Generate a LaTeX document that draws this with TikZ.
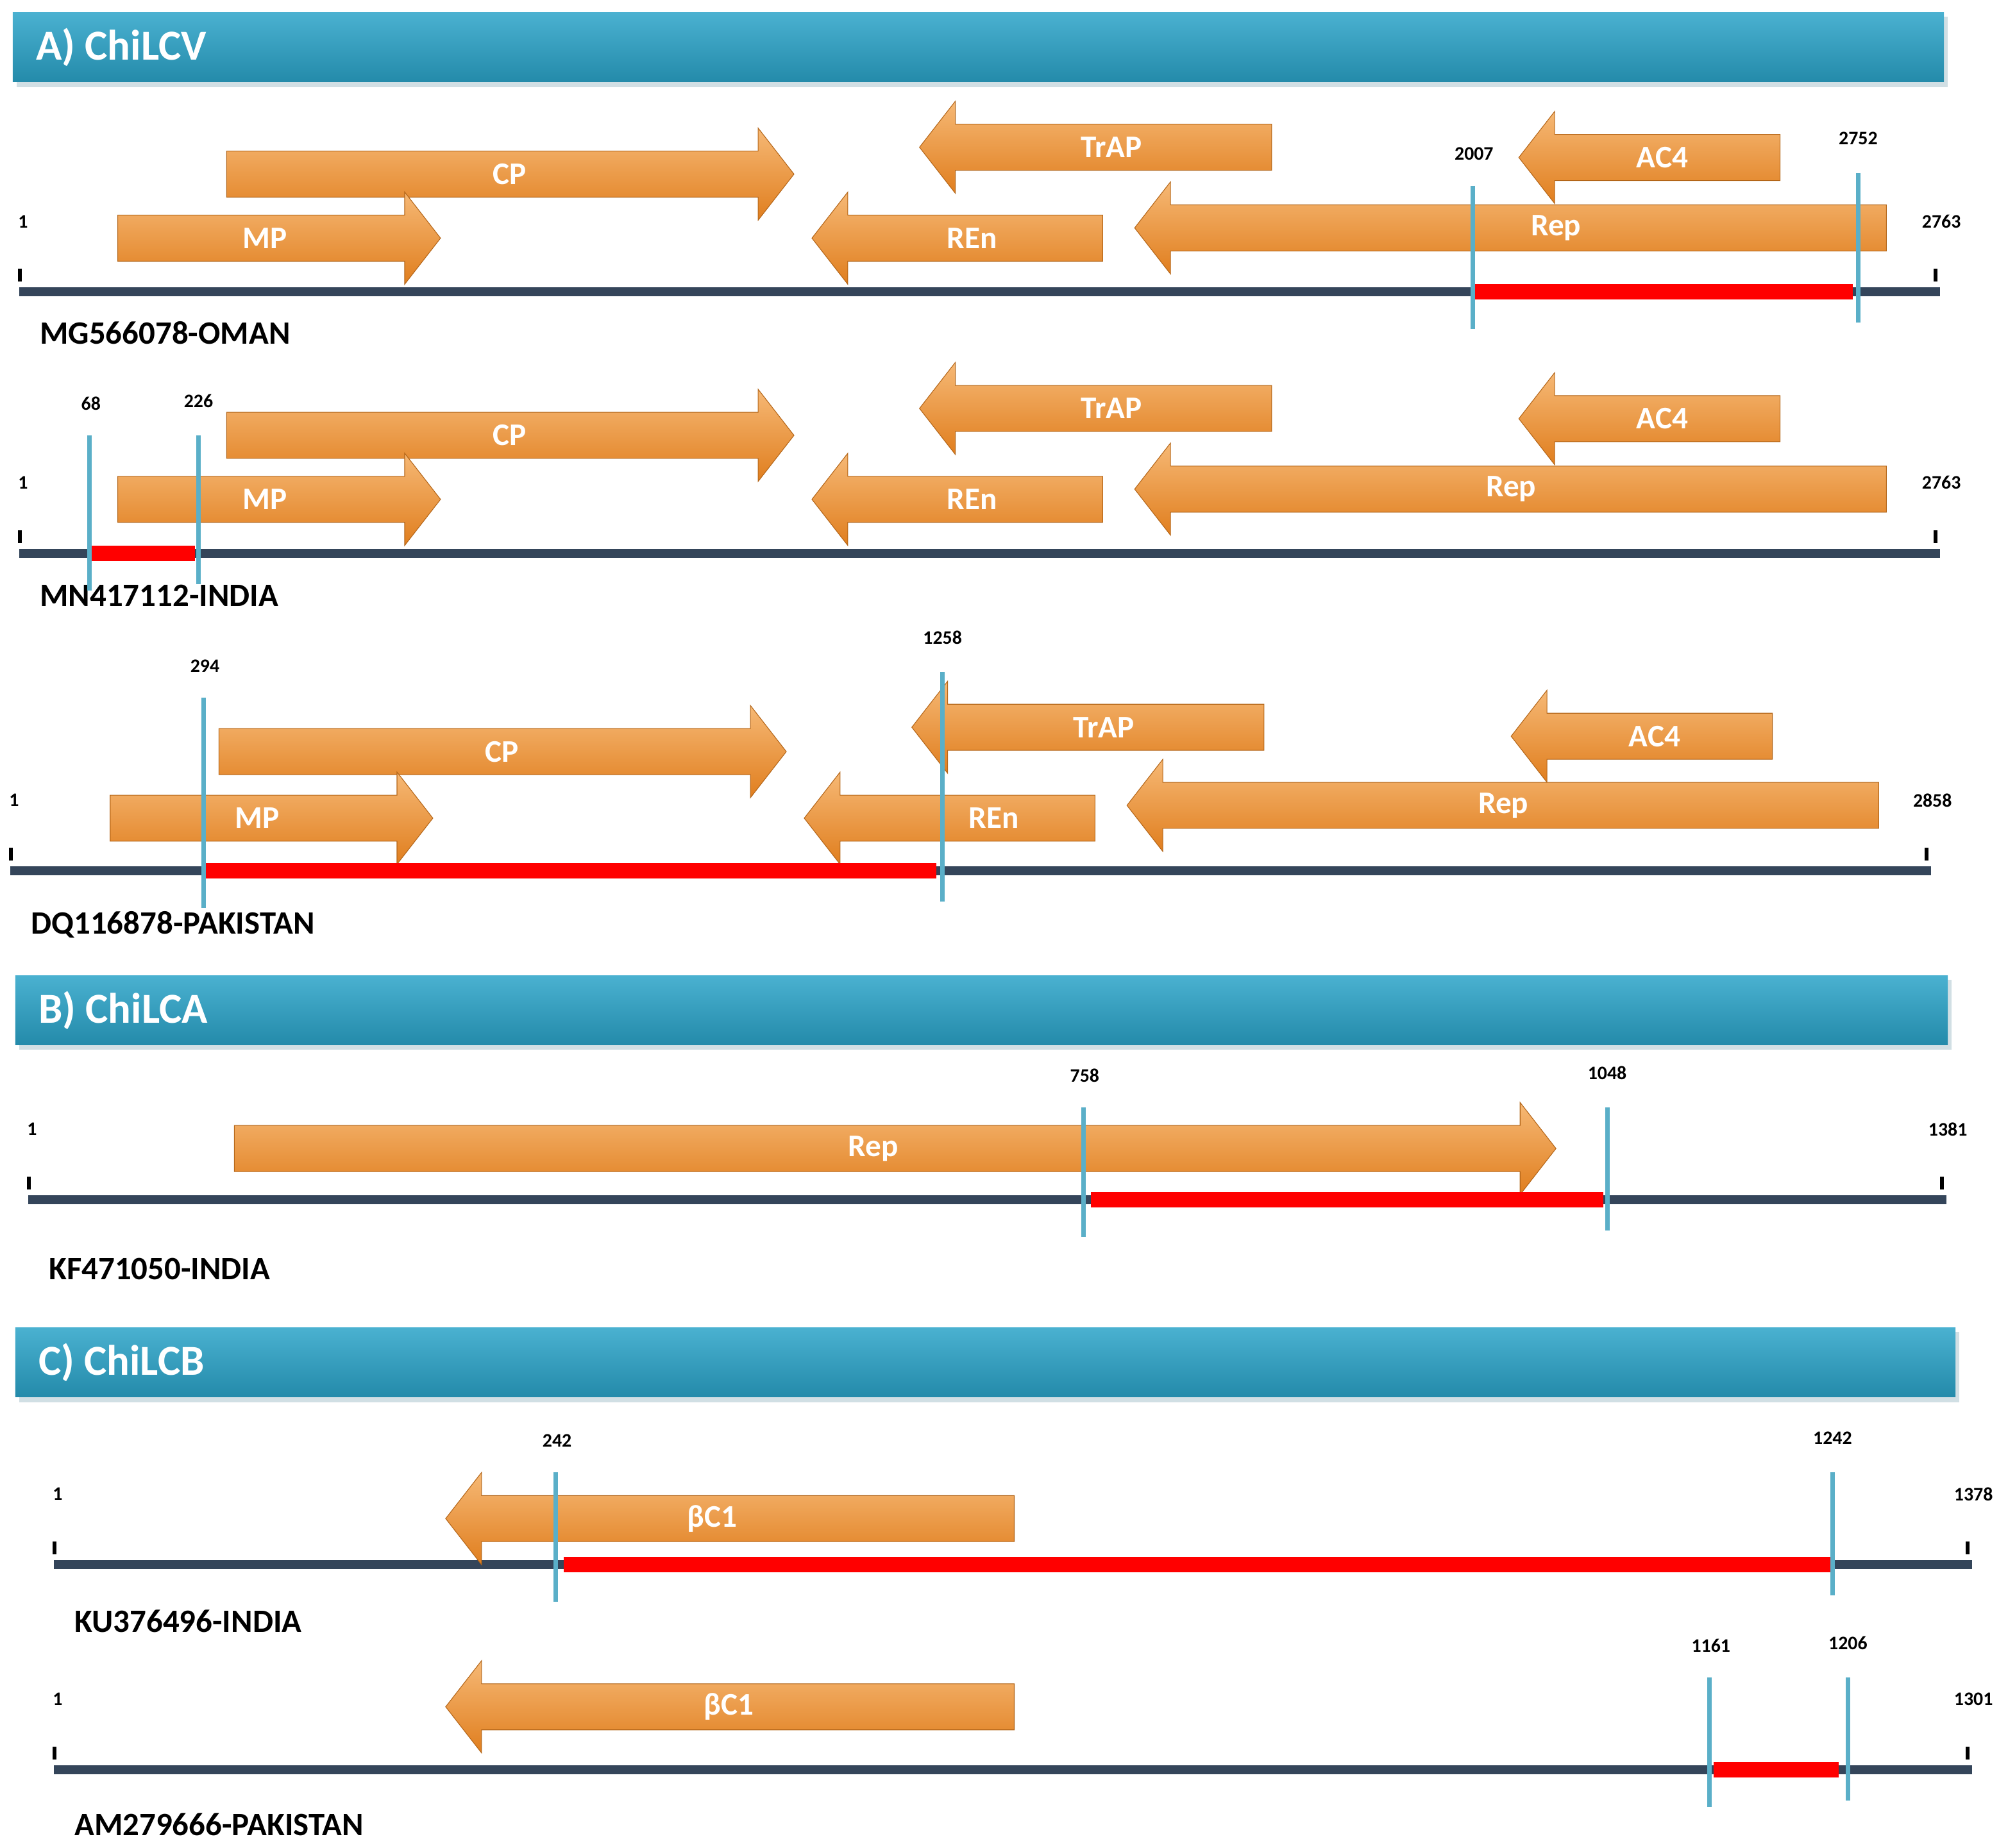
\documentclass[tikz,border=0pt]{standalone}
\usepackage{fontspec}
\setmainfont{Carlito}
\definecolor{barblue}{HTML}{2AA3C8}
\definecolor{genor}{HTML}{F29A3A}
\definecolor{genordk}{HTML}{E07E1E}
\definecolor{trackc}{HTML}{34455A}
\definecolor{cutc}{HTML}{5AAFC8}
\tikzset{
  hdr/.style={font=\bfseries\fontsize{19}{20}\selectfont, text=white, anchor=west},
  num/.style={font=\bfseries\fontsize{8.5}{9}\selectfont},
  iso/.style={font=\bfseries\fontsize{14.5}{15}\selectfont, anchor=west},
  glab/.style={font=\bfseries\fontsize{14}{15}\selectfont, text=white},
  gene/.style={top color=genor!70!white, bottom color=genordk, draw=genordk!80!black, line width=0.3pt},
}
% forward / reverse gene arrow: x1, x2, y, label, label x
\newcommand{\genef}[5]{%
  \path[gene] (#1,#3-18) -- (#2-28,#3-18) -- (#2-28,#3-36) -- (#2,#3) -- (#2-28,#3+36) -- (#2-28,#3+18) -- (#1,#3+18) -- cycle;
  \node[glab] at (#5,#3) {#4};}
\newcommand{\gener}[5]{%
  \path[gene] (#2,#3-18) -- (#1+28,#3-18) -- (#1+28,#3-36) -- (#1,#3) -- (#1+28,#3+36) -- (#1+28,#3+18) -- (#2,#3+18) -- cycle;
  \node[glab] at (#5,#3) {#4};}
% track: x1, x2, y, first, last, name, name y
\newcommand{\track}[7]{%
  \fill[trackc] (#1,#3-3.5) rectangle (#2,#3+3.5);
  \fill[black] (#1-1,#3-18) rectangle (#1+2,#3-8);
  \fill[black] (#2-5,#3-18) rectangle (#2-2,#3-8);
  \node[num] at (#1+3,#3-55) {#4};
  \node[num] at (#2+1,#3-55) {#5};
  \node[iso] at (#1+10,#7) {#6};}
% recombinant segment: x1, x2, y, left cut, right cut, label1, label2, y-top1, y-top2
\newcommand{\recomb}[9]{%
  \fill[red] (#1,#3-6) rectangle (#2,#3+6);
  \draw[cutc, line width=2pt] (#4,#8) -- (#4,#3+29);
  \draw[cutc, line width=2pt] (#5,#9) -- (#5,#3+24);
  \node[num] at (#4+1,#8-25) {#6};
  \node[num] at (#5,#9-27) {#7};}
\newcommand{\header}[4]{%
  \fill[barblue!60!black!40, opacity=.5] (#1+3,#3+3) rectangle (#2+3,#3+58);
  \path[top color=barblue!85!white, bottom color=barblue!85!black] (#1,#3) rectangle (#2,#3+54);
  \node[hdr] at (#1+12,#3+27) {#4};}
\begin{document}
\begin{tikzpicture}[x=0.02cm,y=-0.02cm]
\useasboundingbox (0,0) rectangle (1568,1443);

%%%%%%%%%%%%%------------- A) ChiLCV
\header{10}{1518}{10}{A) ChiLCV}

\track{15}{1515}{228}{1}{2763}{MG566078-OMAN}{260}
\genef{177}{620}{136}{CP}{398}
\genef{92}{344}{186}{MP}{207}
\gener{718}{993}{115}{TrAP}{868}
\gener{634}{861}{186}{REn}{759}
\gener{1186}{1390}{123}{AC4}{1298}
\gener{886}{1473}{178}{Rep}{1215}
\recomb{1152}{1447}{228}{1150}{1451}{2007}{2752}{145}{135}

\track{15}{1515}{432}{1}{2763}{MN417112-INDIA}{465}
\genef{177}{620}{340}{CP}{398}
\genef{92}{344}{390}{MP}{207}
\gener{718}{993}{319}{TrAP}{868}
\gener{634}{861}{390}{REn}{759}
\gener{1186}{1390}{327}{AC4}{1298}
\gener{886}{1473}{382}{Rep}{1180}
\recomb{70}{152}{432}{70}{155}{68}{226}{340}{340}

\track{8}{1508}{680}{1}{2858}{DQ116878-PAKISTAN}{722}
\genef{171}{614}{587}{CP}{392}
\genef{86}{338}{639}{MP}{201}
\gener{712}{987}{568}{TrAP}{862}
\gener{628}{855}{639}{REn}{776}
\gener{1180}{1384}{575}{AC4}{1292}
\gener{880}{1467}{629}{Rep}{1174}
\recomb{160}{731}{680}{159}{736}{294}{1258}{545}{525}

%%%%%%%%%%%%%------------- B) ChiLCA
\header{12}{1521}{762}{B) ChiLCA}

\track{22}{1520}{937}{1}{1381}{KF471050-INDIA}{991}
\genef{183}{1215}{897}{Rep}{682}
\recomb{852}{1252}{937}{846}{1255}{758}{1048}{865}{865}

%%%%%%%%%%%%%------------- C) ChiLCB
\header{12}{1527}{1037}{C) ChiLCB}

\track{42}{1540}{1222}{1}{1378}{KU376496-INDIA}{1266}
\gener{348}{792}{1186}{βC1}{556}
\recomb{440}{1431}{1222}{434}{1431}{242}{1242}{1150}{1150}

\track{42}{1540}{1382}{1}{1301}{AM279666-PAKISTAN}{1425}
\gener{348}{792}{1333}{βC1}{569}
\recomb{1338}{1436}{1382}{1335}{1443}{1161}{1206}{1310}{1310}

\end{tikzpicture}
\end{document}
